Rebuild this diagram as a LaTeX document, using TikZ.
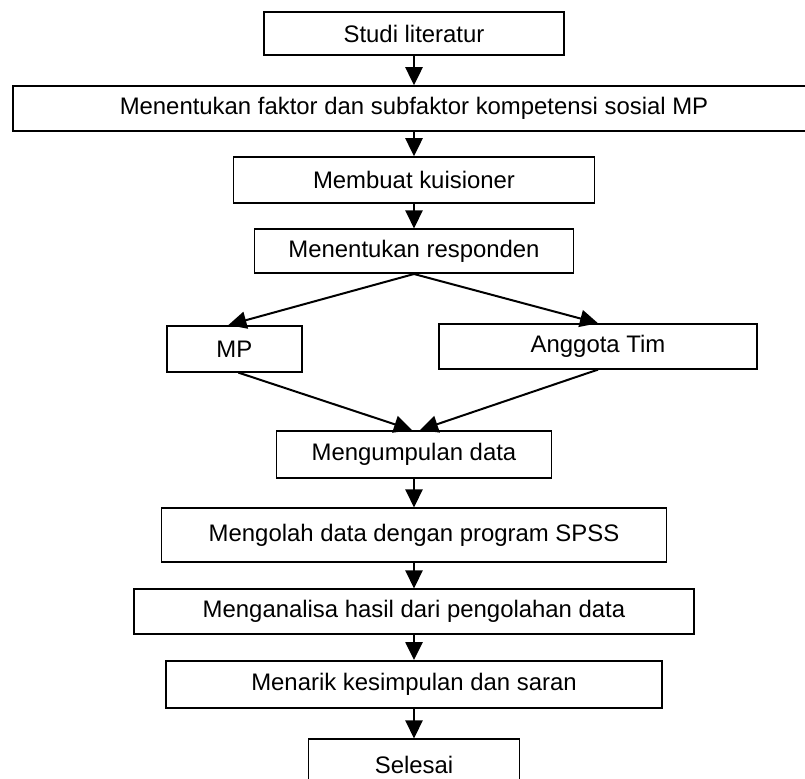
\documentclass[tikz,border=0pt]{standalone}
\usepackage{fontspec}
\setmainfont{Liberation Sans}
\usetikzlibrary{positioning}
\usetikzlibrary{arrows.meta}
\tikzstyle{Line} = [draw, line width=.05cm,
    -{Triangle[length=.45cm, width=.43cm]}]
\tikzstyle{abox} = [draw, rectangle, line width=.04cm, inner sep=0pt,
    text centered, fill=white, font=\fontsize{17}{20}\selectfont]

\begin{document}
\begin{tikzpicture}
     \useasboundingbox (0,0) rectangle (20.125,-19.45);
     % ><>< =================== ><>< %
     % ><><     Place nodes     ><>< %
     % ><>< =================== ><>< %
     \node [abox, minimum width=7.5cm, minimum height=1.08cm] (step00)
        at (10.35,-0.84) {Studi literatur};
     \node [abox, minimum width=20.6cm, minimum height=1.12cm] (step01)
        at (10.625,-2.71)
        {\hspace*{-.55cm}Menentukan faktor dan subfaktor kompetensi sosial MP};
     \node [abox, minimum width=9.03cm, minimum height=1.15cm] (step02)
        at (10.35,-4.5) {Membuat kuisioner};
     \node [abox, minimum width=7.98cm, minimum height=1.1cm] (step03)
        at (10.35,-6.28) {Menentukan responden};
     \node [abox, minimum width=3.38cm, minimum height=1.15cm] (step04)
        at (5.86,-8.72) {MP};
     \node [abox, minimum width=7.95cm, minimum height=1.12cm] (step05)
        at (14.95,-8.66) {Anggota Tim};
     \node [abox, minimum width=6.88cm, minimum height=1.18cm] (step06)
        at (10.35,-11.36) {Mengumpulan data};
     \node [abox, minimum width=12.63cm, minimum height=1.35cm] (step07)
        at (10.35,-13.38) {Mengolah data dengan program SPSS};
     \node [abox, minimum width=14.0cm, minimum height=1.12cm] (step08)
        at (10.35,-15.29) {Menganalisa hasil dari pengolahan data};
     \node [abox, minimum width=12.4cm, minimum height=1.18cm] (step09)
        at (10.35,-17.11) {Menarik kesimpulan dan saran};
     \node [abox, minimum width=5.28cm, minimum height=1.3cm] (step10)
        at (10.35,-19.13) {Selesai};
     % ><>< =================== ><>< %
     % ><><     Draw lines.     ><>< %
     % ><>< =================== ><>< %
     \path [Line] (step00) -- (step00 |- step01.north);
     \path [Line] (step00 |- step01.south) -- (step02);
     \path [Line] (step02) -- (step03);
     \path [Line] (step03.south) -- ([xshift=-.15cm]step04.north);
     \path [Line] (step03.south) -- (step05.north);
     \path [Line] ([xshift=.1cm]step04.south) -- ([xshift=-.05cm]step06.north);
     \path [Line] (step05.south) -- ([xshift=.15cm]step06.north);
     \path [Line] (step06) -- (step07);
     \path [Line] (step07) -- (step08);
     \path [Line] (step08) -- (step09);
     \path [Line] (step09) -- (step10);
\end{tikzpicture}
\end{document}
